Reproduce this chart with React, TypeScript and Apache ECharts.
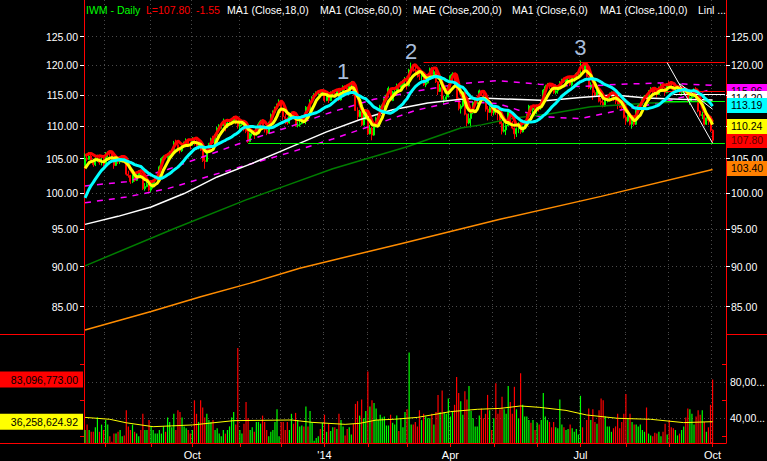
import React, { useEffect, useRef } from "react";
import * as echarts from "echarts";

// ---------- calendar ----------
const monthNames = ["Jul13","Aug13","Sep13","Oct13","Nov13","Dec13","Jan14","Feb14","Mar14","Apr14","May14","Jun14","Jul14","Aug14","Sep14","Oct14"];
const monthDays = [10,22,20,23,20,21,21,19,21,21,21,21,22,21,21,1];
const monthLabels: Record<string, string> = { Oct13: "Oct", Jan14: "'14", Apr14: "Apr", Jul14: "Jul", Oct14: "Oct" };
const padSlots = 6;

// ---------- prices (IWM daily) ----------
const priorCloses = [93.2,94.0,95.0,96.6,96.4,97.0,96.8,97.2,98.8,99.6,100.4,100.6,102.2,102.8,103.8,103.4,104.0];
const priorHighs = [105.2,105.4];

const closes = [
  105.1,104.9,105.4,104.6,104.1,105.0,105.0,104.4,104.5,104.2,
  105.7,105.9,105.8,104.8,104.0,104.8,104.5,104.9,105.0,104.5,102.7,102.5,101.6,102.6,101.8,102.6,102.9,102.6,100.6,100.9,101.2,100.4,
  100.9,101.7,102.0,102.1,103.8,105.0,105.3,105.2,105.5,105.6,106.2,107.4,107.1,106.6,106.2,107.0,107.3,107.8,107.2,107.1,
  108.0,107.7,106.7,107.3,106.3,104.7,104.6,106.3,107.3,108.0,107.4,108.6,109.7,110.0,110.1,110.7,109.9,110.5,110.6,110.9,111.3,110.6,110.0,
  110.2,110.6,109.5,109.2,107.6,108.8,108.9,108.6,109.7,110.3,110.8,109.8,109.4,108.9,110.5,111.8,112.2,112.8,113.3,113.9,
  112.4,111.5,111.2,110.5,111.9,111.9,111.5,110.1,110.2,110.4,111.1,110.9,113.0,112.6,114.0,114.5,115.1,115.4,115.4,115.3,115.4,
  114.1,114.8,114.1,115.3,115.3,115.2,115.8,114.2,115.4,116.4,116.2,115.9,116.7,116.9,115.2,112.5,111.5,112.3,110.2,111.9,112.2,
  108.8,109.7,108.6,109.9,111.3,111.6,113.2,113.4,114.4,115.0,116.1,114.1,115.5,115.5,116.5,116.3,116.7,117.3,117.4,
  116.5,119.2,119.5,119.3,119.1,118.4,118.1,118.3,116.7,117.0,118.2,119.4,118.4,118.9,117.2,115.6,116.2,114.3,114.3,114.7,116.5,
  118.2,118.5,116.6,114.4,112.8,113.2,115.5,111.9,110.5,111.2,112.1,113.8,114.0,114.4,115.7,115.0,114.4,112.7,112.2,112.9,112.1,
  112.4,112.3,112.1,110.4,109.2,109.4,110.1,112.2,110.6,109.7,108.8,109.6,110.4,109.1,109.9,110.6,111.7,113.2,112.6,112.9,112.8,
  113.1,113.0,114.0,115.8,116.4,116.6,116.4,116.2,115.4,115.7,116.2,117.0,117.5,117.2,117.7,117.7,116.7,117.9,118.0,118.6,118.7,
  119.6,119.0,120.2,118.1,116.2,116.7,115.4,115.0,115.5,114.0,113.8,113.2,114.5,114.5,114.9,114.9,114.4,114.0,113.3,113.0,112.9,111.4,
  110.8,111.6,110.3,110.7,110.3,112.5,113.3,113.4,114.3,114.8,114.1,115.7,116.0,115.5,115.3,115.1,116.0,116.6,116.2,115.4,116.8,
  116.6,116.2,115.8,116.0,116.1,115.4,115.7,115.9,115.2,114.0,114.6,114.7,115.9,114.3,112.4,111.7,111.8,110.3,111.3,110.9,109.35,
  107.8
];

const highs = [
  105.8,105.6,106.0,105.8,105.0,105.4,105.6,105.3,105.2,105.3,
  106.0,106.1,106.2,105.9,104.9,105.1,105.2,105.3,105.5,105.2,104.6,103.2,102.6,103.0,102.9,102.9,103.3,103.4,102.7,101.4,101.7,101.5,
  101.6,101.9,102.3,102.6,104.0,105.2,105.5,105.6,105.7,106.2,106.4,107.7,107.9,107.5,106.8,107.2,107.6,108.1,107.9,107.6,
  108.3,108.2,108.0,107.5,107.4,106.5,105.4,106.5,107.4,108.2,108.5,108.7,109.9,110.3,110.5,111.2,110.8,110.8,111.0,111.3,111.6,111.5,110.8,
  110.6,111.0,110.7,110.0,109.5,109.0,109.2,109.0,109.9,110.6,111.0,111.1,110.1,109.7,110.7,112.0,112.5,113.1,113.6,114.3,
  114.2,112.6,111.9,111.4,112.1,112.3,112.2,111.6,110.7,110.9,111.7,111.4,113.2,113.1,114.3,114.8,115.3,115.6,115.8,115.7,115.7,
  115.6,115.2,115.0,115.6,115.8,115.7,116.0,116.1,115.6,116.6,116.6,116.5,117.0,117.3,117.1,115.3,113.0,112.6,112.5,112.3,112.6,
  112.3,110.2,109.9,110.1,111.5,111.9,113.4,113.7,114.6,115.2,116.4,116.2,115.7,116.2,116.9,116.8,117.2,117.5,118.0,
  117.5,119.4,120.45,120.0,119.8,119.2,118.8,118.6,118.6,117.6,118.5,119.6,119.7,119.3,119.6,117.3,116.8,116.9,114.9,115.9,116.8,
  118.4,118.8,118.6,117.6,114.6,113.5,115.6,115.6,112.0,112.0,112.4,114.0,114.6,114.5,115.9,115.8,115.3,114.5,113.2,113.2,113.0,
  112.8,113.1,112.5,112.2,110.8,110.6,110.3,112.4,112.3,110.8,109.8,109.8,110.6,110.6,110.1,110.9,111.9,113.4,113.3,113.1,113.2,
  113.4,113.3,114.1,116.0,116.7,117.0,116.8,116.6,116.5,116.1,116.5,117.3,117.7,117.9,118.0,118.1,118.0,118.0,118.3,118.8,119.2,
  120.8,119.7,120.45,120.3,118.2,117.1,116.8,115.8,116.1,116.1,114.5,114.4,114.7,114.8,115.4,115.6,115.2,114.5,114.1,113.8,113.9,113.0,
  111.7,111.8,111.7,111.1,111.4,112.6,113.5,113.8,114.6,115.0,115.1,115.8,116.3,116.1,115.9,115.6,116.4,116.9,116.8,116.3,117.0,
  117.3,117.0,116.5,116.2,116.5,116.2,115.9,116.1,115.9,115.3,114.8,115.5,116.1,116.3,114.4,112.5,112.3,112.1,111.4,111.4,111.1,
  109.5
];

const lows = [
  103.9,104.6,104.8,104.4,103.8,103.9,104.5,104.1,104.0,103.8,
  104.2,105.2,105.3,104.5,103.5,103.9,104.2,104.2,104.6,104.3,102.5,102.2,101.3,101.4,101.6,101.7,102.4,102.5,100.4,100.3,100.8,100.2,
  100.1,100.6,101.4,101.3,102.0,103.6,104.7,104.9,105.0,105.3,105.5,105.9,106.9,106.4,105.8,106.0,106.7,107.1,106.9,106.4,
  107.0,107.0,106.3,106.4,106.2,104.5,103.5,104.5,106.1,106.8,107.2,107.3,108.4,109.5,109.6,110.0,109.2,109.7,110.1,110.3,110.7,110.3,109.6,
  109.4,110.0,109.2,108.9,107.4,107.5,108.4,108.0,108.5,109.4,110.1,109.6,109.0,108.6,108.8,110.4,111.7,112.0,112.7,113.2,
  112.1,110.9,110.3,110.2,110.4,111.5,111.1,109.9,109.8,109.9,110.3,110.4,110.3,112.0,112.5,114.0,114.4,114.9,115.0,114.9,114.9,
  113.8,114.0,113.7,114.0,114.8,114.6,115.0,114.0,114.1,115.3,115.8,115.4,115.8,116.4,114.9,112.4,111.0,111.4,110.0,110.1,111.0,
  108.6,108.7,107.8,108.5,109.8,110.9,111.5,112.8,112.9,114.2,114.9,114.0,114.0,115.2,115.4,115.6,116.2,116.4,116.3,
  115.9,116.4,119.0,118.9,118.6,117.9,117.5,117.4,116.5,116.3,116.9,118.1,117.7,117.8,117.0,115.0,115.5,114.2,113.6,114.2,114.6,
  116.4,117.9,116.2,114.2,112.5,112.0,113.0,111.7,109.9,110.3,109.8,111.9,113.2,113.5,114.3,114.8,113.9,112.3,110.9,112.1,111.6,
  111.7,111.8,110.9,110.3,108.7,109.0,108.6,110.0,110.4,109.5,108.0,108.3,108.9,108.8,109.0,109.8,110.5,111.6,112.2,112.1,112.3,
  111.9,112.3,112.6,113.9,115.7,116.2,116.0,115.6,115.2,115.1,115.2,115.9,116.6,117.0,117.1,117.3,116.5,116.4,117.2,117.6,118.3,
  118.6,118.7,118.9,117.9,116.0,115.9,114.2,114.7,114.9,113.8,113.4,113.0,113.1,113.8,114.4,114.7,114.0,113.5,112.7,112.9,112.5,111.2,
  110.2,110.6,110.1,109.6,110.0,110.2,112.3,112.9,113.3,114.2,113.6,114.0,115.6,115.0,115.0,114.6,115.0,116.0,115.9,114.9,115.3,
  116.2,115.9,115.2,115.4,115.7,115.2,114.9,115.1,115.0,113.7,113.4,114.0,114.6,114.1,112.2,111.5,111.1,110.1,110.2,110.2,109.1,
  107.35
];

// volume, millions of shares
const volumes = [
  27,33,27,25,25,30,41,25,33,27,
  38,33,20,14,23,23,25,27,20,21,49,31,27,33,25,23,20,27,45,27,27,38,
  31,27,23,23,27,23,31,25,41,36,30,45,27,49,47,41,31,29,27,23,
  27,60,45,36,60,52,41,45,38,36,38,27,29,23,20,27,23,27,31,41,47,33,118,
  27,23,34,58,40,27,30,25,36,36,34,43,36,27,20,25,27,36,50,20,
  36,36,27,36,27,45,
  34,46,38,31,32,31,53,31,48,36,15,18,20,28,35,44,25,34,26,30,30,28,45,38,31,21,28,30,22,34,56,59,43,61,40,48,92,53,60,57,51,38,44,41,42,32,32,44,35,33,43,26,40,30,47,50,113,33,33,36,31,
  49,38,45,42,40,40,45,33,47,66,47,71,47,45,62,42,47,55,86,68,59,44,70,61,76,48,40,31,31,43,51,40,45,66,49,27,40,
  79,45,50,64,50,45,76,58,45,75,50,40,90,55,42,42,38,35,38,27,35,33,38,68,42,38,36,30,36,30,29,61,33,30,27,28,33,29,25,28,22,65,30,13,
  38,51,38,50,36,34,49,62,60,42,31,31,25,29,31,45,29,36,45,
  67,40,45,36,33,33,31,33,27,25,52,23,21,20,24,23,25,20,25,34,22,
  38,30,29,27,21,23,27,31,41,51,50,45,33,42,49,44,49,36,25,30,55,83.096773
];

// long moving averages / envelopes: [dayIndex, price]
const whiteLine = [[0,95.6],[16,96.7],[32,98.0],[48,99.9],[64,102.3],[81,104.3],[97,106.4],[117,109.1],[133,111.0],[149,112.6],[166,113.7],[182,114.3],[192,114.5],[208,114.3],[224,114.1],[240,114.6],[256,115.0],[272,114.5],[288,114.3],[304,114.2]];
const greenLine = [[0,90.1],[43,95.0],[78,99.0],[97,101.0],[120,103.5],[156,106.8],[182,109.7],[192,110.2],[208,111.3],[224,111.9],[245,113.1],[274,113.7],[304,114.0]];
const orangeLine = [[0,82.2],[32,84.4],[56,86.2],[80,87.9],[104,89.8],[153,93.0],[201,96.3],[250,99.5],[304,103.4]];
const magentaUpper = [[0,101.0],[20,101.6],[40,103.4],[60,105.6],[80,107.9],[100,110.0],[120,112.3],[140,114.3],[160,115.6],[180,116.8],[200,117.4],[220,116.8],[240,116.4],[260,116.8],[280,117.0],[304,116.6]];
const magentaLower = [[0,98.6],[20,99.4],[40,100.6],[60,102.4],[80,104.2],[100,106.0],[120,108.0],[140,110.2],[160,112.5],[180,114.0],[200,113.6],[220,111.5],[240,111.2],[260,112.6],[280,113.8],[304,115.96]];
const volAvg = [[0,41],[12,38.9],[20,35],[33,30.7],[52,32.6],[72,37.4],[100,38.1],[110,35.5],[126,33.3],[133,34.4],[141,38],[150,39],[161,41],[177,47.4],[190,50],[201,51],[211,53.7],[220,52.2],[233,48.8],[243,43.7],[258,40],[274,38.9],[290,35.2],[304,36.25862492]];

// trend lines drawn on the chart: [dayIndex, price] -> [dayIndex, price]
const drawnLines = [
  { a: [164, 120.45], b: [310, 120.45], color: "#ff0000" },
  { a: [79, 107.35], b: [310, 107.35], color: "#00ff00" },
  { a: [273, 115.7], b: [310, 115.7], color: "#ff0000" },
  { a: [281, 114.0], b: [310, 114.0], color: "#00ff00" },
  { a: [285, 115.1], b: [310, 115.1], color: "#ffffff" },
  { a: [282, 120.45], b: [304, 107.35], color: "#ffffff" },
  { a: [288, 116.9], b: [304, 112.7], color: "#ffffff" },
];
const waveLabels = [
  { name: "1", at: 125, price: 118.85 },
  { name: "2", at: 158, price: 122.3 },
  { name: "3", at: 240, price: 123.0 },
];

const priceTicks = [85, 90, 95, 100, 105, 110, 115, 120, 125];
const priceMin = 81.74;
const priceMax = 131.72;
const volMin = 12.56;
const volMax = 133.67;
const volTickValues = [20, 60, 100];
const volLeftLabelValues = [40];
const volRightLabelValues = [40, 80];
const volGridValues = [40, 80];

const FONT = '"Liberation Sans", Arial, sans-serif';
const L = (v: number) => Math.log(v);
const avg = (a: number[]) => a.reduce((s, v) => s + v, 0) / a.length;
const fmtVol = (m: number) => (m * 1e6).toLocaleString("en-US", { minimumFractionDigits: 2, maximumFractionDigits: 2 });

export default function App() {
  const ref = useRef<HTMLDivElement>(null);

  useEffect(() => {
    document.body.style.margin = "0";
    document.body.style.background = "#000";
    if (!ref.current) return;
    const chart = echarts.init(ref.current, undefined, { renderer: "svg" });

    const categories: string[] = [];
    monthNames.forEach((m, mi) => {
      for (let k = 1; k <= monthDays[mi]; k++) categories.push(`${m}-${k}`);
    });
    for (let k = 0; k < padSlots; k++) categories.push(`pad-${k}`);
    const isMonthStart = (idx: number) => {
      const c = categories[idx];
      if (!c || c.startsWith("pad")) return false;
      const [m, k] = c.split("-");
      return k === "1" && m !== monthNames[0];
    };
    const isLabeled = (idx: number) => {
      if (!isMonthStart(idx)) return false;
      return !!monthLabels[categories[idx].split("-")[0]];
    };

    const P = priorCloses.length;
    const allCloses = priorCloses.concat(closes);
    const allHighs = priorHighs.concat(highs);
    const opens = closes.map((_, i) => allCloses[P + i - 1]);
    const candleData = closes.map((c, i) => {
      const o = opens[i];
      const h = Math.max(highs[i], o, c);
      const l = Math.min(lows[i], o, c);
      return [L(o), L(c), L(l), L(h)];
    });
    const ma = (n: number) => closes.map((_, i) => avg(allCloses.slice(P + i - n + 1, P + i + 1)));
    const ma6 = ma(6);
    const ma18 = ma(18);
    const red3 = highs.map((_, i) => avg(allHighs.slice(i, i + 3)));
    const last = closes.length - 1;

    const tr = (pts: number[][]) => pts.map(([i, v]) => [i, L(v)]);
    const hidden = { color: "rgba(0,0,0,0)", width: 0 };
    const tag = (value: number, text: string, bg: string, fg: string) => ({
      yAxis: L(value),
      lineStyle: hidden,
      label: {
        show: true, position: "end", formatter: text, backgroundColor: bg, color: fg,
        fontSize: 10.5, fontFamily: FONT, padding: [2, 4, 2, 4], distance: 1, width: 34, lineHeight: 11,
      },
    });
    const volTag = (value: number, bg: string) => ({
      yAxis: value,
      lineStyle: hidden,
      label: {
        show: true, position: "start", formatter: fmtVol(value), backgroundColor: bg, color: "#000",
        fontSize: 10.5, fontFamily: FONT, padding: [3, 5, 2, 3], distance: 1, width: 75, align: "right", lineHeight: 11,
      },
    });
    const lineSeries = (data: any[], color: string, width: number, z: number, extra: any = {}) => ({
      type: "line", xAxisIndex: 0, yAxisIndex: 0, data, showSymbol: false, symbol: "none",
      silent: true, z, lineStyle: { color, width, ...(extra.lineStyle || {}) },
      ...(extra.markLine ? { markLine: extra.markLine } : {}),
    });

    const dotted = { color: "#4a4a4a", width: 1, type: [1, 3] };
    const red = { color: "#ff0000", width: 1 };

    const option: any = {
      animation: false,
      backgroundColor: "#000",
      textStyle: { fontFamily: FONT },
      grid: [
        { left: 84, right: 41, top: 0, height: 334, show: false, outerBoundsMode: "none", containLabel: false },
        { left: 84, right: 41, top: 334, height: 109, show: false, outerBoundsMode: "none", containLabel: false },
      ],
      xAxis: [
        {
          type: "category", gridIndex: 0, data: categories, boundaryGap: true,
          axisLine: { show: false }, axisTick: { show: false }, axisLabel: { show: false },
          splitLine: { show: true, interval: (i: number) => isMonthStart(i), lineStyle: dotted },
        },
        {
          type: "category", gridIndex: 1, data: categories, boundaryGap: true,
          axisLine: { show: true, lineStyle: red },
          axisTick: { show: true, alignWithLabel: true, interval: (i: number) => isMonthStart(i), length: 4, lineStyle: { color: "#ff0000" } },
          axisLabel: {
            show: true, interval: (i: number) => isLabeled(i), color: "#ffffff", fontSize: 11, margin: 6,
            formatter: (v: string) => monthLabels[v.split("-")[0]] || "",
          },
          splitLine: { show: true, interval: (i: number) => isMonthStart(i), lineStyle: dotted },
        },
      ],
      yAxis: [
        {
          type: "value", gridIndex: 0, position: "left", min: L(priceMin), max: L(priceMax),
          axisLine: { show: true, lineStyle: red },
          axisTick: { show: true, customValues: priceTicks.map(L), length: 4, lineStyle: { color: "#ffffff" } },
          axisLabel: { show: true, customValues: priceTicks.map(L), color: "#ffffff", fontSize: 10.5, margin: 6, formatter: (v: number) => Math.exp(v).toFixed(2) },
          splitLine: { show: true, lineStyle: dotted },
        },
        {
          type: "value", gridIndex: 0, position: "right", min: L(priceMin), max: L(priceMax),
          axisLine: { show: true, lineStyle: red },
          axisTick: { show: true, customValues: priceTicks.map(L), length: 4, lineStyle: { color: "#ffffff" } },
          axisLabel: { show: true, customValues: priceTicks.map(L), color: "#ffffff", fontSize: 10.5, margin: 5, formatter: (v: number) => Math.exp(v).toFixed(2) },
          splitLine: { show: false },
        },
        {
          type: "value", gridIndex: 1, position: "left", min: volMin, max: volMax,
          axisLine: { show: true, lineStyle: red },
          axisTick: { show: true, customValues: volTickValues, length: 4, lineStyle: { color: "#ff0000" } },
          axisLabel: { show: true, customValues: volLeftLabelValues, color: "#ffffff", fontSize: 10.5, margin: 6, formatter: (v: number) => fmtVol(v) },
          splitLine: { show: false },
        },
        {
          type: "value", gridIndex: 1, position: "right", min: volMin, max: volMax,
          axisLine: { show: true, lineStyle: red },
          axisTick: { show: true, inside: true, customValues: volTickValues, length: 4, lineStyle: { color: "#ff0000" } },
          axisLabel: { show: true, customValues: volRightLabelValues, color: "#ffffff", fontSize: 10.5, margin: 4, formatter: (v: number) => fmtVol(v).slice(0, 5) + "..." },
          splitLine: { show: false },
        },
        {
          type: "value", gridIndex: 1, position: "right", min: volMin, max: volMax,
          axisLine: { show: false }, axisLabel: { show: false },
          axisTick: { show: false, customValues: volGridValues },
          splitLine: { show: true, lineStyle: dotted },
        },
      ],
      graphic: [
        { type: "line", shape: { x1: 0, y1: 334.5, x2: 84, y2: 334.5 }, style: { stroke: "#ff0000", lineWidth: 1 }, z: 50 },
        { type: "line", shape: { x1: 726, y1: 334.5, x2: 767, y2: 334.5 }, style: { stroke: "#ff0000", lineWidth: 1 }, z: 50 },
        { type: "line", shape: { x1: 0, y1: 443.5, x2: 84, y2: 443.5 }, style: { stroke: "#ff0000", lineWidth: 1 }, z: 50 },
        ...[
          { t: "IWM - Daily", x: 86, c: "#00ff00" },
          { t: `L=${closes[last].toFixed(2)}`, x: 146, c: "#ff0000" },
          { t: (closes[last] - closes[last - 1]).toFixed(2), x: 196, c: "#ff0000" },
          { t: "MA1 (Close,18,0)", x: 227, c: "#ffffff" },
          { t: "MA1 (Close,60,0)", x: 320, c: "#ffffff" },
          { t: "MAE (Close,200,0)", x: 413, c: "#ffffff" },
          { t: "MA1 (Close,6,0)", x: 512, c: "#ffffff" },
          { t: "MA1 (Close,100,0)", x: 600, c: "#ffffff" },
          { t: "Linl ...", x: 698, c: "#ffffff" },
        ].map((d) => ({
          type: "text", x: d.x, y: 10, z: 60,
          style: { text: d.t, fill: d.c, fontSize: 10.5, fontFamily: FONT, verticalAlign: "middle" },
        })),
      ],
      series: [
        {
          type: "candlestick", xAxisIndex: 0, yAxisIndex: 0, data: candleData, barWidth: 1.5, silent: true, z: 1,
          itemStyle: { color: "#00ff00", color0: "#ff0000", borderColor: "#00ff00", borderColor0: "#ff0000", borderWidth: 1 },
          markLine: {
            silent: true, symbol: ["none", "none"], animation: false,
            data: [
              ...drawnLines.map((d) => [
                { coord: [d.a[0], L(d.a[1])], lineStyle: { color: d.color, width: 1, type: "solid" }, label: { show: false } },
                { coord: [d.b[0], L(d.b[1])] },
              ]),
              tag(closes[last], closes[last].toFixed(2), "#ff0000", "#600000"),
            ],
          },
          markPoint: {
            silent: true, symbol: "circle", symbolSize: 1, animation: false,
            itemStyle: { color: "rgba(0,0,0,0)" },
            label: { show: true, position: "inside", formatter: (p: any) => p.name, color: "#a8bddb", fontSize: 22, fontFamily: FONT },
            data: waveLabels.map((w) => ({ name: w.name, coord: [w.at, L(w.price)] })),
          },
        },
        lineSeries(tr(magentaUpper), "#ff00ff", 1.5, 2, { lineStyle: { type: [6, 6] } }),
        lineSeries(tr(magentaLower), "#ff00ff", 1.5, 2, {
          lineStyle: { type: [6, 6] },
          markLine: { silent: true, symbol: ["none", "none"], data: [tag(magentaLower[magentaLower.length - 1][1], magentaLower[magentaLower.length - 1][1].toFixed(2), "#ff00ff", "#000")] },
        }),
        lineSeries(tr(orangeLine), "#ff8c00", 1.5, 3, {
          markLine: { silent: true, symbol: ["none", "none"], data: [tag(orangeLine[orangeLine.length - 1][1], orangeLine[orangeLine.length - 1][1].toFixed(2), "#ff8000", "#000")] },
        }),
        lineSeries(tr(greenLine), "#007d00", 1.5, 3),
        lineSeries(tr(whiteLine), "#ffffff", 1.5, 3, {
          markLine: { silent: true, symbol: ["none", "none"], data: [tag(whiteLine[whiteLine.length - 1][1], whiteLine[whiteLine.length - 1][1].toFixed(2), "#ffffff", "#000")] },
        }),
        lineSeries(red3.map(L), "#ff0000", 3, 4),
        lineSeries(ma6.map(L), "#ffff00", 3, 5, {
          markLine: { silent: true, symbol: ["none", "none"], data: [tag(ma6[last], ma6[last].toFixed(2), "#ffff00", "#000")] },
        }),
        lineSeries(ma18.map(L), "#00ffff", 3, 6, {
          markLine: { silent: true, symbol: ["none", "none"], data: [tag(ma18[last], ma18[last].toFixed(2), "#00ffff", "#000")] },
        }),
        {
          type: "bar", xAxisIndex: 1, yAxisIndex: 2, data: volumes, barWidth: 1.2, silent: true, z: 2,
          itemStyle: { color: (p: any) => (closes[p.dataIndex] >= opens[p.dataIndex] ? "#00ff00" : "#ff0000") },
          markLine: { silent: true, symbol: ["none", "none"], data: [volTag(volumes[last], "#ff0000")] },
        },
        {
          type: "line", xAxisIndex: 1, yAxisIndex: 2, data: volAvg, showSymbol: false, symbol: "none", silent: true, z: 3,
          lineStyle: { color: "#ffff00", width: 1 },
          markLine: { silent: true, symbol: ["none", "none"], data: [volTag(volAvg[volAvg.length - 1][1], "#ffff00")] },
        },
      ],
    };

    chart.setOption(option);
    return () => chart.dispose();
  }, []);

  return <div ref={ref} style={{ width: 767, height: 461, background: "#000" }} />;
}
